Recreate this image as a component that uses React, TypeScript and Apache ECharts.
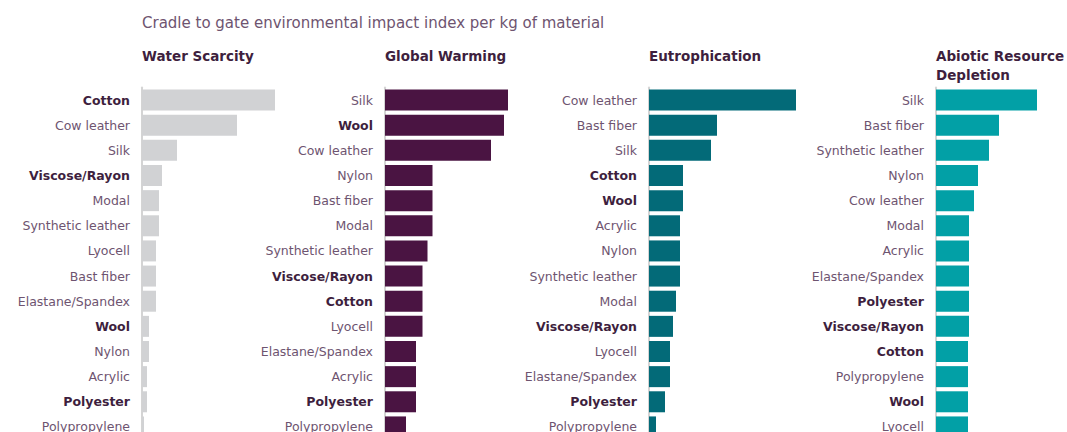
import React, { useEffect, useRef } from "react";
import * as echarts from "echarts";

const mainTitle = "Cradle to gate environmental impact index per kg of material";
const panelTitles = ["Water Scarcity", "Global Warming", "Eutrophication", "Abiotic Resource\nDepletion"];
const boldMaterials = ["Cotton", "Viscose/Rayon", "Wool", "Polyester"];

const waterCats = ["Cotton", "Cow leather", "Silk", "Viscose/Rayon", "Modal", "Synthetic leather", "Lyocell", "Bast fiber", "Elastane/Spandex", "Wool", "Nylon", "Acrylic", "Polyester", "Polypropylene"];
const waterVals = [133, 95, 35, 20, 17, 17, 14, 14, 14, 7, 7, 5, 5, 2];

const warmCats = ["Silk", "Wool", "Cow leather", "Nylon", "Bast fiber", "Modal", "Synthetic leather", "Viscose/Rayon", "Cotton", "Lyocell", "Elastane/Spandex", "Acrylic", "Polyester", "Polypropylene"];
const warmVals = [123, 119, 106, 47.5, 47.5, 47.5, 42.5, 37.5, 37.5, 37.5, 31, 31, 31, 21];

const eutroCats = ["Cow leather", "Bast fiber", "Silk", "Cotton", "Wool", "Acrylic", "Nylon", "Synthetic leather", "Modal", "Viscose/Rayon", "Lyocell", "Elastane/Spandex", "Polyester", "Polypropylene"];
const eutroVals = [147, 68, 62, 34, 34, 31, 31, 31, 27, 24, 21, 21, 16, 7];

const abioCats = ["Silk", "Bast fiber", "Synthetic leather", "Nylon", "Cow leather", "Modal", "Acrylic", "Elastane/Spandex", "Polyester", "Viscose/Rayon", "Cotton", "Polypropylene", "Wool", "Lyocell"];
const abioVals = [101, 63, 53, 42, 38, 33, 33, 33, 33, 33, 32, 32, 32, 32];

const panelColors = ["#d1d2d4", "#4a1442", "#036a78", "#02a0a6"];
const panelLefts = [142, 385, 649, 936];

export default function App() {
  const ref = useRef<HTMLDivElement>(null);
  useEffect(() => {
    if (!ref.current) return;
    const chart = echarts.init(ref.current, null, { renderer: "svg" });
    const cats = [waterCats, warmCats, eutroCats, abioCats];
    const vals = [waterVals, warmVals, eutroVals, abioVals];
    const font = "DejaVu Sans";
    const grids = panelLefts.map((l) => ({ left: l, top: 87.5, width: 200, height: 352, containLabel: false }));
    const xAxes = panelLefts.map((_, i) => ({
      type: "value", gridIndex: i, min: 0, max: 200, show: false,
    }));
    const yAxes = cats.map((c, i) => ({
      type: "category", gridIndex: i, data: c, inverse: true,
      axisLine: { show: true, lineStyle: { color: "#d4d4d4", width: 2 } },
      axisTick: { show: false },
      axisLabel: {
        margin: 12,
        formatter: (v: string) => (boldMaterials.includes(v) ? `{b|${v}}` : `{n|${v}}`),
        rich: {
          b: { fontFamily: font, fontSize: 12.5, fontWeight: "bold", color: "#3e1f3e" },
          n: { fontFamily: font, fontSize: 12.5, color: "#6e5470" },
        },
      },
    }));
    const series = vals.map((v, i) => ({
      type: "bar", xAxisIndex: i, yAxisIndex: i, data: v, barWidth: 21,
      itemStyle: { color: panelColors[i] }, silent: true,
    }));
    const titles: any[] = [
      { text: mainTitle, left: 142, top: 14, padding: 0, textStyle: { fontFamily: font, fontSize: 15, lineHeight: 18, fontWeight: "normal", color: "#6e5470" } },
      ...panelTitles.map((t, i) => ({
        text: t, left: panelLefts[i], top: 46.5, padding: 0,
        textStyle: { fontFamily: font, fontSize: 13.5, fontWeight: "bold", color: "#3e1f3e", lineHeight: 19 },
      })),
    ];
    chart.setOption({
      animation: false,
      title: titles,
      grid: grids,
      xAxis: xAxes,
      yAxis: yAxes,
      series,
    });
    return () => chart.dispose();
  }, []);
  return <div ref={ref} style={{ position: "fixed", left: 0, top: 0, width: 1160, height: 450, background: "#fff" }} />;
}
